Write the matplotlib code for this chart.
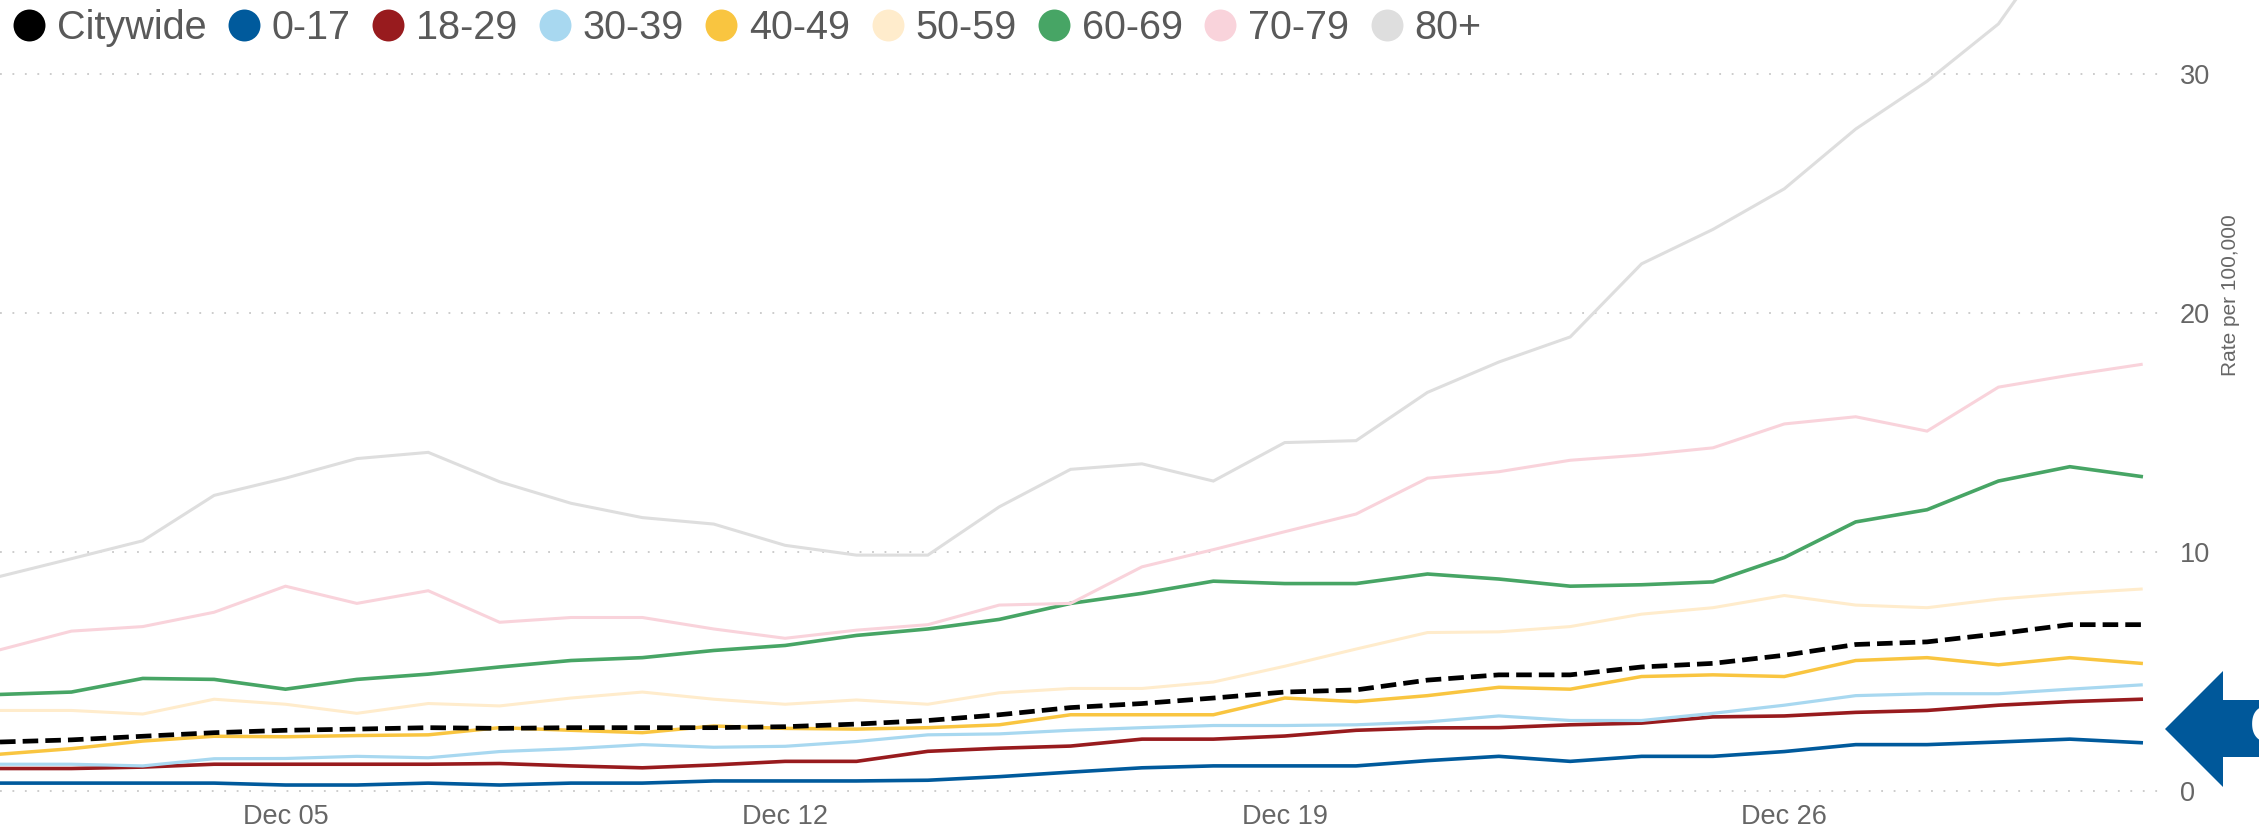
import matplotlib
matplotlib.use("Agg")
import matplotlib.pyplot as plt
import matplotlib.dates as mdates
from matplotlib.lines import Line2D
from matplotlib.patches import Polygon
import pandas as pd

plt.rcParams['font.family'] = ['Liberation Sans', 'DejaVu Sans']

# daily rate per 100,000, Dec 1 - Dec 31
fechas = pd.date_range('2021-12-01', periods=31, freq='D')

citywide = [2.05, 2.14, 2.29, 2.44, 2.54, 2.59, 2.65, 2.62, 2.65, 2.65, 2.65, 2.69, 2.80, 2.95, 3.19, 3.49,
            3.66, 3.89, 4.14, 4.23, 4.64, 4.86, 4.86, 5.19, 5.34, 5.68, 6.13, 6.24, 6.58, 6.96, 6.96]
age_0_17 = [0.33, 0.33, 0.33, 0.33, 0.25, 0.25, 0.33, 0.25, 0.33, 0.33, 0.42, 0.42, 0.42, 0.45, 0.60, 0.79,
            0.97, 1.05, 1.05, 1.05, 1.27, 1.45, 1.24, 1.45, 1.45, 1.65, 1.94, 1.94, 2.05, 2.17, 2.02]
age_18_29 = [0.94, 0.94, 1.00, 1.12, 1.12, 1.12, 1.12, 1.15, 1.05, 0.97, 1.09, 1.24, 1.24, 1.66, 1.79, 1.88,
             2.17, 2.17, 2.30, 2.54, 2.64, 2.65, 2.77, 2.84, 3.10, 3.14, 3.29, 3.37, 3.59, 3.74, 3.84]
age_30_39 = [1.12, 1.12, 1.05, 1.35, 1.36, 1.45, 1.39, 1.65, 1.77, 1.94, 1.83, 1.87, 2.07, 2.35, 2.39, 2.54,
             2.65, 2.74, 2.74, 2.77, 2.89, 3.14, 2.95, 2.95, 3.25, 3.59, 3.99, 4.07, 4.07, 4.26, 4.44]
age_40_49 = [1.54, 1.77, 2.09, 2.29, 2.27, 2.32, 2.35, 2.65, 2.54, 2.44, 2.72, 2.62, 2.59, 2.65, 2.77, 3.19,
             3.19, 3.19, 3.89, 3.74, 3.99, 4.34, 4.26, 4.79, 4.86, 4.79, 5.46, 5.58, 5.28, 5.58, 5.34]
age_50_59 = [3.37, 3.37, 3.22, 3.84, 3.63, 3.25, 3.66, 3.56, 3.89, 4.14, 3.84, 3.63, 3.81, 3.63, 4.11, 4.29,
             4.29, 4.56, 5.22, 5.94, 6.63, 6.66, 6.88, 7.40, 7.67, 8.18, 7.78, 7.67, 8.03, 8.27, 8.45]
age_60_69 = [4.04, 4.14, 4.71, 4.67, 4.26, 4.67, 4.89, 5.19, 5.46, 5.58, 5.88, 6.09, 6.51, 6.78, 7.18, 7.85,
             8.27, 8.78, 8.68, 8.68, 9.08, 8.87, 8.57, 8.63, 8.75, 9.77, 11.26, 11.77, 12.97, 13.57, 13.16]
age_70_79 = [5.91, 6.69, 6.88, 7.48, 8.57, 7.85, 8.38, 7.06, 7.26, 7.26, 6.78, 6.39, 6.73, 6.96, 7.78, 7.85,
             9.38, 10.10, 10.85, 11.59, 13.09, 13.36, 13.84, 14.06, 14.36, 15.36, 15.66, 15.06, 16.90, 17.40, 17.85]
age_80_plus = [8.98, 9.72, 10.47, 12.37, 13.09, 13.91, 14.17, 12.94, 12.04, 11.44, 11.17, 10.28, 9.87, 9.87,
               11.89, 13.46, 13.69, 12.97, 14.58, 14.66, 16.68, 17.95, 19.00, 22.06, 23.50, 25.20, 27.70,
               29.70, 32.10, 36.30, 38.50]

nombres = ['Citywide', '0-17', '18-29', '30-39', '40-49', '50-59', '60-69', '70-79', '80+']
series = [citywide, age_0_17, age_18_29, age_30_39, age_40_49, age_50_59, age_60_69, age_70_79, age_80_plus]
colores = ['#000000', '#005a9c', '#981b1e', '#a8d8f0', '#f9c540', '#ffeccc', '#47a565', '#f9d3db', '#dedede']
grosores = [3.4, 2.6, 2.6, 2.3, 2.5, 2.2, 2.6, 2.2, 2.2]

W, H = 2259, 827
fig = plt.figure(figsize=(W / 100, H / 100), dpi=100)
ax = fig.add_axes([0, (H - 800) / H, 2162 / W, 800 / H])

for nombre, valores, color, lw in zip(nombres, series, colores, grosores):
    if nombre == 'Citywide':
        ax.plot(fechas, valores, color=color, lw=lw, linestyle=(0, (3.3, 1.5)), zorder=3)
    else:
        ax.plot(fechas, valores, color=color, lw=lw, zorder=2, solid_joinstyle='miter')

ax.set_xlim(fechas[0], fechas[-1] + pd.Timedelta(hours=7))
ax.set_ylim(-0.377, 33.1)

ax.set_xticks(pd.to_datetime(['2021-12-05', '2021-12-12', '2021-12-19', '2021-12-26']))
ax.xaxis.set_major_formatter(mdates.DateFormatter('%b %d'))
ax.yaxis.tick_right()
ax.set_yticks([0, 10, 20, 30])
ax.tick_params(axis='x', length=0, labelsize=19.5, labelcolor='#666666', pad=3)
ax.tick_params(axis='y', length=0, labelsize=19.5, labelcolor='#666666', pad=13)
ax.grid(axis='y', color='#c8c8c8', lw=1.3, linestyle=(0, (1, 5.9)))
ax.grid(axis='x', visible=False)
for s in ax.spines.values():
    s.set_visible(False)
ax.set_facecolor('none')

fig.text(2230 / W, 1 - 295 / H, 'Rate per 100,000', rotation=90, ha='center', va='center',
         fontsize=15, color='#666666')

# legend along the top
handles = [Line2D([], [], marker='o', linestyle='none', markersize=23, color=c, markeredgewidth=0)
           for c in colores]
fig.legend(handles, nombres, loc='center left', bbox_to_anchor=(13 / W, 1 - 28 / H), ncol=9,
           frameon=False, fontsize=28.5, labelcolor='#595959', handlelength=0.8, handletextpad=0.3,
           columnspacing=0.55, borderpad=0, borderaxespad=0)

# blue arrow at the right edge
pts = [(2165, 729), (2223, 671), (2223, 700), (2270, 700), (2270, 757), (2223, 757), (2223, 787)]
flecha = Polygon([(x / W, 1 - y / H) for x, y in pts], closed=True, transform=fig.transFigure,
                 facecolor='#00589a', edgecolor='none')
fig.patches.append(flecha)
fig.text(2250 / W, 1 - 729 / H, 'C', color='white', fontsize=37, fontweight='bold', ha='left', va='center')

fig.savefig('out.png', dpi=100, facecolor='white')
